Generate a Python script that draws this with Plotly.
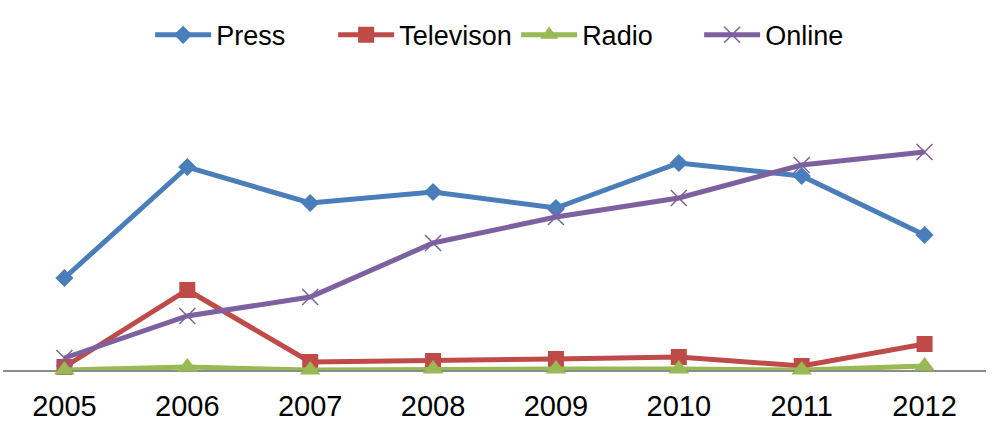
import plotly.graph_objects as go

years = ["2005", "2006", "2007", "2008", "2009", "2010", "2011", "2012"]
press = [92, 203, 167, 178, 162, 207, 194, 135]
television = [3, 80, 8, 9, 11, 13, 4, 26]
radio = [0, 3, 0, 1, 1, 1, 0, 4]
online = [12, 54, 73, 127, 153, 172, 205, 218]

fig = go.Figure()
fig.add_trace(go.Scatter(x=years, y=press, name="Press", mode="lines+markers",
                         line=dict(color="#4A7EBB", width=5), cliponaxis=False,
                         marker=dict(symbol="diamond", size=14, color="#4A7EBB")))
fig.add_trace(go.Scatter(x=years, y=television, name="Televison", mode="lines+markers",
                         line=dict(color="#BE4B48", width=5), cliponaxis=False,
                         marker=dict(symbol="square", size=16, color="#BE4B48")))
fig.add_trace(go.Scatter(x=years, y=radio, name="Radio", mode="lines+markers",
                         line=dict(color="#98B954", width=5), cliponaxis=False,
                         marker=dict(symbol="triangle-up", size=18, color="#98B954")))
fig.add_trace(go.Scatter(x=years, y=online, name="Online", mode="lines+markers",
                         line=dict(color="#7D60A0", width=5), cliponaxis=False,
                         marker=dict(symbol="x-thin", size=16, color="#7D60A0",
                                     line=dict(color="#7D60A0", width=1.5))))

fig.update_layout(
    width=993, height=430,
    margin=dict(l=3, r=7, t=80, b=60),
    paper_bgcolor="white", plot_bgcolor="white",
    font=dict(family="Liberation Sans, Arial, sans-serif", color="black"),
    showlegend=True,
    legend=dict(orientation="h", x=0.522, xanchor="center", y=0.975, yanchor="top",
                yref="container", font=dict(size=27), itemwidth=56,
                entrywidth=112, traceorder="normal", tracegroupgap=0),
    xaxis=dict(type="category", range=[-0.5, 7.5], showgrid=False,
               showline=True, linecolor="#8C8C8C", linewidth=1.5, layer="below traces",
               ticks="", ticklabelstandoff=9, tickfont=dict(size=29), zeroline=False),
    yaxis=dict(range=[0, 290], visible=False, showgrid=False, zeroline=False),
)

fig.write_html("out.html")
